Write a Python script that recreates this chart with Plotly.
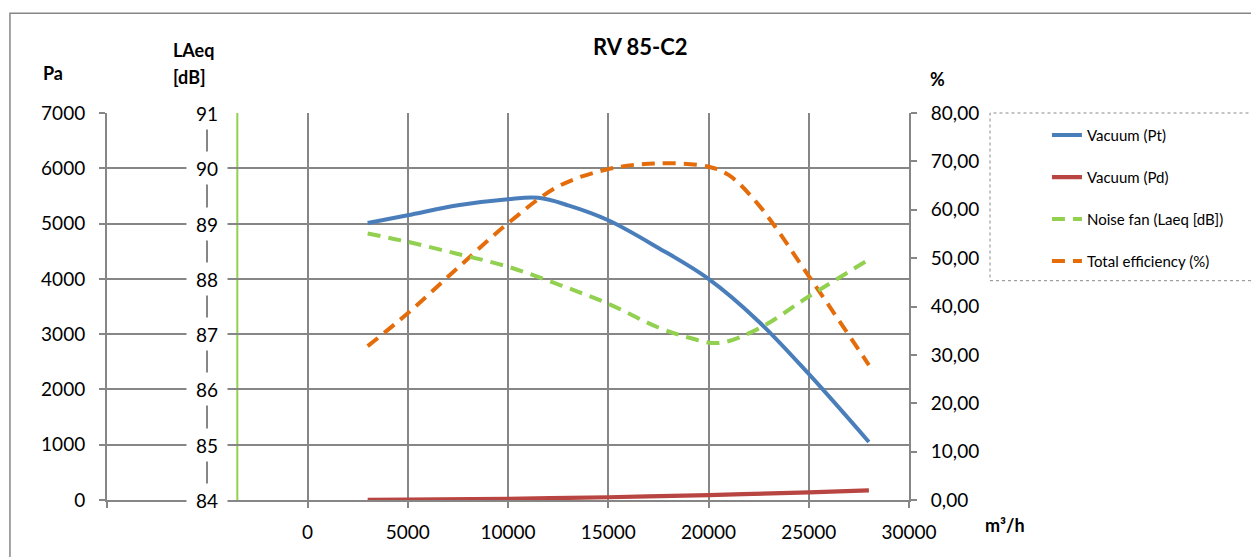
import plotly.graph_objects as go

# ---------------- data ----------------
chart_title = "RV 85-C2"

flow_pt = [3000, 5000, 7500, 10000, 11500, 13000, 15000, 17500, 20000, 22500, 25000, 28000]
vacuum_pt = [5010, 5150, 5330, 5440, 5465, 5330, 5060, 4560, 4000, 3230, 2280, 1050]

flow_pd = [3000, 5000, 10000, 15000, 20000, 25000, 28000]
vacuum_pd = [2, 6, 22, 50, 89, 139, 175]

flow_noise = [3000, 5000, 7500, 10000, 12500, 15000, 17500, 19000, 20500, 22500, 25000, 28000]
noise_laeq = [88.82, 88.67, 88.45, 88.22, 87.90, 87.55, 87.12, 86.94, 86.84, 87.10, 87.68, 88.35]

flow_eff = [3000, 5000, 7500, 10000, 12500, 15000, 17500, 20000, 21000, 22500, 25000, 28000]
efficiency = [31.8, 38.6, 48.0, 57.2, 64.8, 68.4, 69.6, 68.9, 67.2, 61.0, 46.3, 27.9]

x_tick_vals = [-10000, -5000, 0, 5000, 10000, 15000, 20000, 25000, 30000]
x_tick_text = ["", "", "0", "5000", "10000", "15000", "20000", "25000", "30000"]
pa_tick_vals = [0, 1000, 2000, 3000, 4000, 5000, 6000, 7000]
pa_tick_text = ["0", "1000", "2000", "3000", "4000", "5000", "6000", "7000"]
laeq_tick_vals = [84, 85, 86, 87, 88, 89, 90, 91]
laeq_tick_text = ["84", "85", "86", "87", "88", "89", "90", "91"]
pct_tick_vals = [0, 10, 20, 30, 40, 50, 60, 70, 80]
pct_tick_text = ["0,00", "10,00", "20,00", "30,00", "40,00", "50,00", "60,00", "70,00", "80,00"]
green_marker_x = -3500

# ---------------- styling ----------------
FONT = "Lato"
GRID = "#868686"
BLUE = "#4A7EBB"
RED = "#B84541"
GREEN = "#92D050"
ORANGE = "#E46C0A"

fig = go.Figure()
fig.add_trace(go.Scatter(x=flow_pt, y=vacuum_pt, name="Vacuum (Pt)", mode="lines",
                         line=dict(color=BLUE, width=4, shape="spline"), legendgroup="a"))
fig.add_trace(go.Scatter(x=flow_pd, y=vacuum_pd, name="Vacuum (Pd)", mode="lines",
                         line=dict(color=RED, width=4.2, shape="spline"), legendgroup="b"))
fig.add_trace(go.Scatter(x=flow_noise, y=noise_laeq, name="Noise fan (Laeq [dB])", mode="lines",
                         yaxis="y3",
                         line=dict(color=GREEN, width=4, shape="spline", dash="13px,8px"),
                         legendgroup="c"))
fig.add_trace(go.Scatter(x=flow_eff, y=efficiency, name="Total efficiency (%)", mode="lines",
                         yaxis="y2",
                         line=dict(color=ORANGE, width=4, shape="spline", dash="13px,8px"),
                         legendgroup="d"))

tick_font = dict(family=FONT, size=19, color="black")

fig.update_layout(
    width=1251, height=557,
    margin=dict(l=107, r=342, t=113, b=57),
    paper_bgcolor="white", plot_bgcolor="white",
    showlegend=True,
    xaxis=dict(range=[-10000, 30000], tickvals=x_tick_vals, ticktext=x_tick_text,
               showgrid=True, gridcolor=GRID, gridwidth=2,
               showline=True, linecolor=GRID, linewidth=2,
               ticks="outside", ticklen=6, tickcolor=GRID, tickwidth=2,
               tickfont=tick_font, ticklabelstandoff=8, zeroline=False),
    yaxis=dict(range=[0, 7000], tickvals=pa_tick_vals, ticktext=pa_tick_text,
               showgrid=True, gridcolor=GRID, gridwidth=2,
               showline=True, linecolor=GRID, linewidth=2,
               ticks="outside", ticklen=6, tickcolor=GRID, tickwidth=2,
               tickfont=tick_font, ticklabelstandoff=10, zeroline=False),
    yaxis2=dict(range=[0, 80], tickvals=pct_tick_vals, ticktext=pct_tick_text,
                overlaying="y", side="right", anchor="x",
                showgrid=False, showline=True, linecolor=GRID, linewidth=2,
                ticks="outside", ticklen=6, tickcolor=GRID, tickwidth=2,
                tickfont=tick_font, ticklabelstandoff=10, zeroline=False),
    yaxis3=dict(range=[84, 91], overlaying="y", anchor="x", side="left",
                showgrid=False, showline=False, showticklabels=False, ticks="",
                zeroline=False),
    legend=dict(x=1.172, y=0.985, xanchor="left", yanchor="top",
                font=dict(family=FONT, size=15, color="black"),
                bgcolor="rgba(0,0,0,0)", traceorder="grouped", tracegroupgap=19.5),
)

# green vertical marker line
fig.add_shape(type="line", xref="x", yref="paper", x0=green_marker_x, x1=green_marker_x,
              y0=0, y1=1, line=dict(color=GREEN, width=2), layer="below")

# LAeq axis tick labels (centred on the axis, with white background)
for v, t in zip(laeq_tick_vals, laeq_tick_text):
    fig.add_annotation(x=-5000, xref="x", y=v, yref="y3", text=t, showarrow=False,
                       xanchor="center", yanchor="middle",
                       bgcolor="white", width=40, height=32, borderpad=0,
                       font=tick_font)

# chart outer border and dotted legend box
fig.add_shape(type="rect", xref="paper", yref="paper", x0=-0.121, x1=1.7, y0=-0.3, y1=1.258,
              line=dict(color=GRID, width=1.5), fillcolor="rgba(0,0,0,0)", layer="below")
fig.add_shape(type="rect", xref="paper", yref="paper", x0=1.101, x1=1.7, y0=0.5667, y1=1.0,
              line=dict(color="#8a8a8a", width=1, dash="dot"), fillcolor="rgba(0,0,0,0)")


def label(px, py, text, size=18, xanchor="center"):
    fig.add_annotation(xref="paper", yref="paper", x=(px - 107) / 802, y=(500 - py) / 387,
                       text="<b>" + text + "</b>", showarrow=False,
                       xanchor=xanchor, yanchor="middle",
                       font=dict(family=FONT, size=size, color="black"))


label(640, 47, chart_title, size=22)
label(53, 73, "Pa")
label(171, 50, "LAeq", xanchor="left")
label(171, 77, "[dB]", xanchor="left")
label(937, 79, "%")
label(1005, 525, "m³/h")

fig.write_html("out.html", config={"displayModeBar": False},
               post_script="document.body.style.margin='0';document.body.style.overflow='hidden';")
